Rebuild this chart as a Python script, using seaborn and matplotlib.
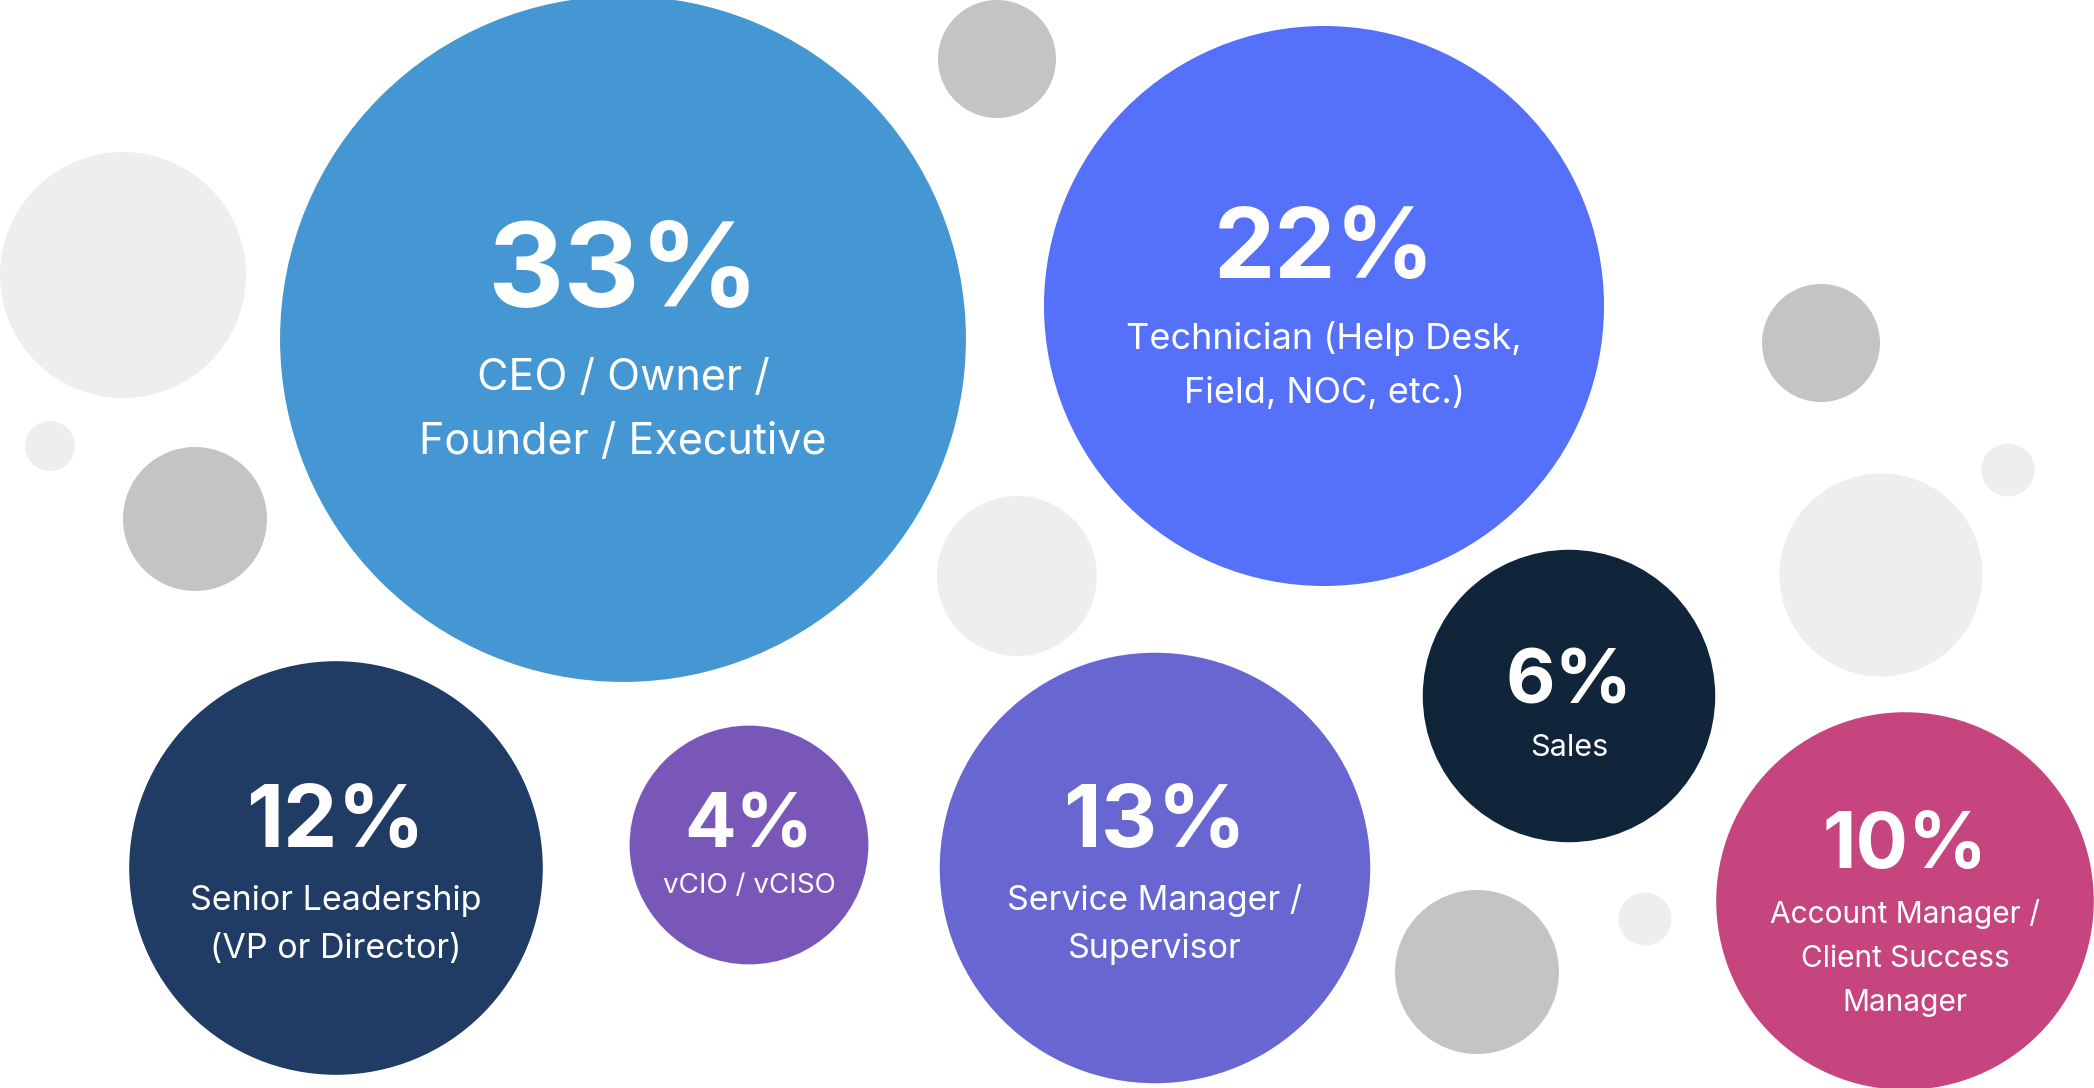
import matplotlib
matplotlib.use("Agg")
import matplotlib.pyplot as plt
import seaborn as sns
import pandas as pd

# 역할별 응답 비율 (%)
roles = ["CEO", "Technician", "Senior Leadership", "vCIO", "Service Manager", "Sales", "Account Manager"]
shares = [33, 22, 12, 4, 13, 6, 10]
label_lines = [
    ["CEO / Owner /", "Founder / Executive"],
    ["Technician (Help Desk,", "Field, NOC, etc.)"],
    ["Senior Leadership", "(VP or Director)"],
    ["vCIO / vCISO"],
    ["Service Manager /", "Supervisor"],
    ["Sales"],
    ["Account Manager /", "Client Success", "Manager"],
]
bubble_colors = ["#4497D3", "#5570F9", "#203C65", "#7957B9", "#6866D0", "#10253A", "#C6457F"]

# 버블 배치 (픽셀 좌표)
bubble_x = [623, 1324, 336, 749, 1155, 1569, 1905]
bubble_y = [339, 306, 868, 845, 868, 696, 901]
# 글자 크기 / 기준선 위치
pct_size = [85, 70, 62, 55, 63, 55, 56]
lab_size = [31, 26, 24.5, 20, 24.5, 22, 21.5]
pct_base = [307, 278, 847, 848, 847, 704, 868]
lab_base = [390, 349, 910, 893, 910, 756, 923]
lab_gap = [64, 54, 48, 0, 48, 0, 44]

# 배경 장식 원
deco_x = [997, 123, 50, 195, 1017, 1821, 2008, 1881, 1645, 1477]
deco_y = [59, 275, 446, 519, 576, 343, 470, 575, 919, 972]
deco_r = [59, 123, 25, 72, 80, 59, 26.5, 101.5, 26.5, 82]
deco_c = ["#C4C4C4", "#EEEEEE", "#EEEEEE", "#C4C4C4", "#EEEEEE",
          "#C4C4C4", "#EEEEEE", "#EEEEEE", "#EEEEEE", "#C4C4C4"]

sns.set_style("white")
plt.rcParams['font.family'] = ['Inter', 'DejaVu Sans']

W, H, DPI = 2094, 1088, 100
fig = plt.figure(figsize=(W / DPI, H / DPI), dpi=DPI)
ax = fig.add_axes([0, 0, 1, 1])
ax.set_xlim(0, W)
ax.set_ylim(H, 0)
ax.axis('off')

# 픽셀 반지름 -> 마커 면적(pt^2)
px2pt = 72 / DPI
ax.scatter(deco_x, deco_y, s=[(2 * r * px2pt) ** 2 for r in deco_r],
           c=deco_c, linewidths=0, zorder=1)

df = pd.DataFrame({'role': roles, 'share': shares, 'x': bubble_x, 'y': bubble_y})
k = 59.7  # 반지름 = k * sqrt(비율)
s_max = (2 * k * (33 ** 0.5) * px2pt) ** 2
sns.scatterplot(data=df, x='x', y='y', hue='role', size='share',
                palette=dict(zip(roles, bubble_colors)),
                sizes=(0, s_max), size_norm=(0, 33),
                linewidth=0, legend=False, ax=ax, zorder=2)
ax.set_xlim(0, W)
ax.set_ylim(H, 0)

for i, role in enumerate(roles):
    ax.text(bubble_x[i], pct_base[i], f"{shares[i]}%", color='white',
            fontsize=pct_size[i], fontweight='bold', ha='center', va='baseline', zorder=3)
    for j, line in enumerate(label_lines[i]):
        ax.text(bubble_x[i], lab_base[i] + j * lab_gap[i], line, color='white',
                fontsize=lab_size[i], ha='center', va='baseline', zorder=3)

fig.savefig("out.png", dpi=DPI, facecolor='white')
